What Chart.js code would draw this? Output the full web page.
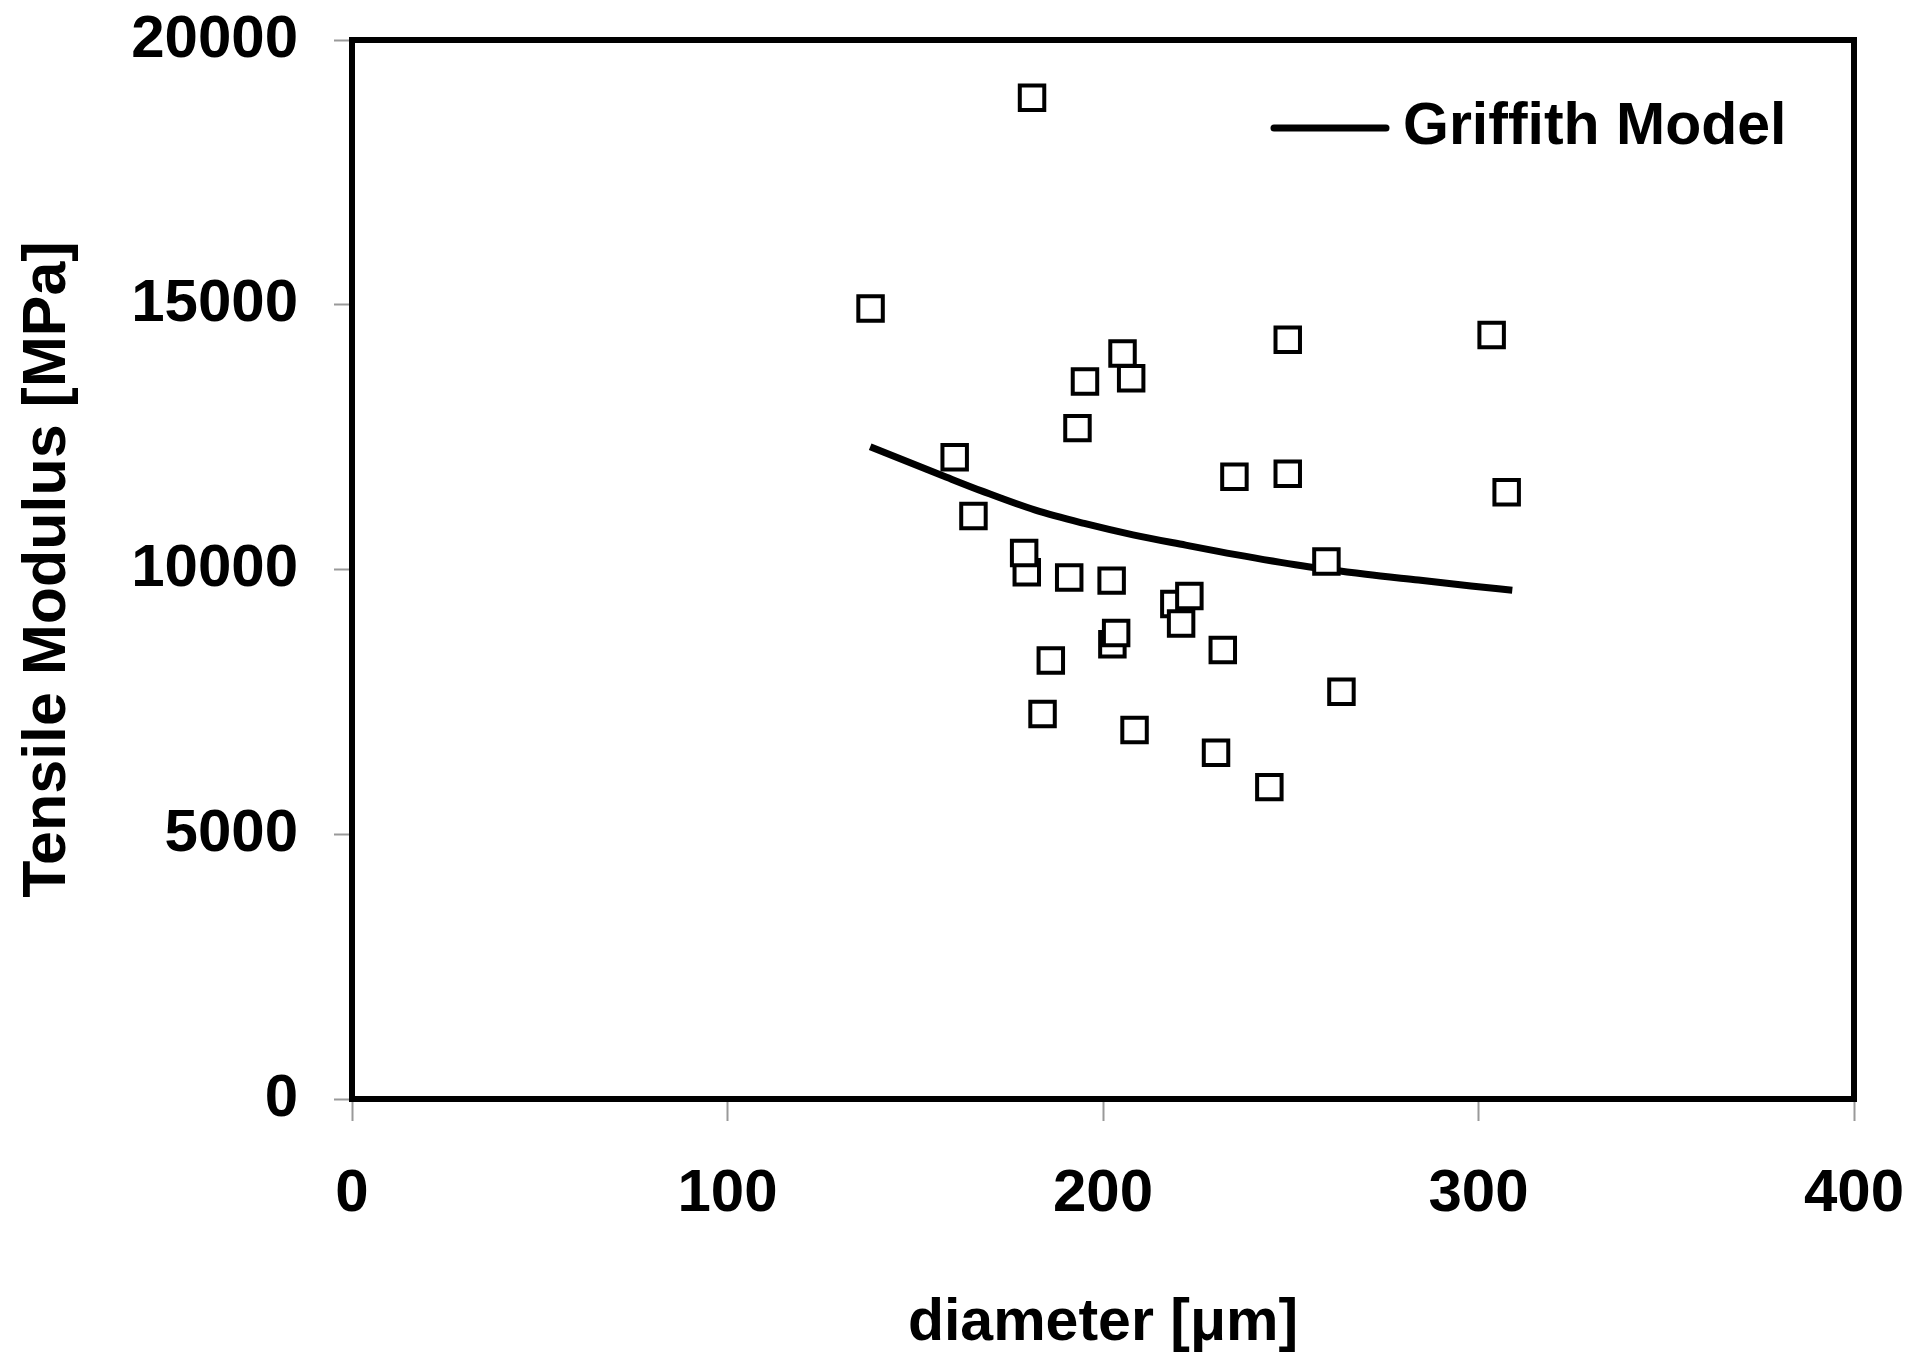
<!DOCTYPE html>
<html>
<head>
<meta charset="utf-8">
<script src="https://cdn.jsdelivr.net/npm/chart.js@4.4.1/dist/chart.umd.min.js"></script>
<style>
  html, body { margin: 0; padding: 0; background: #fff; }
  #wrap { width: 1915px; height: 1359px; }
</style>
</head>
<body>
<div id="wrap"><canvas id="c" width="1915" height="1359"></canvas></div>
<script>
// ---- data ----
// measured fibres (back-most squares first so overlapping order matches)
const diameter = [179.7, 219.0, 202.5, 181.1, 138.1, 205.2, 195.2, 207.5, 193.2, 249.2, 303.5, 160.5, 235.0, 249.2, 307.5, 165.5, 179.0, 191.0, 202.3, 259.5, 223.0, 220.8, 203.5, 231.9, 186.1, 263.5, 183.9, 208.4, 230.1, 244.3];
const modulus  = [9950, 9350, 8590, 18910, 14930, 14080, 13550, 13610, 12670, 14340, 14430, 12120, 11750, 11810, 11460, 11010, 10310, 9850, 9790, 10150, 9500, 8980, 8800, 8480, 8280, 7690, 7270, 6970, 6540, 5890];
// Griffith model curve
const modelDiameter = [138, 146, 157, 168, 182, 195, 208, 222, 235, 253, 270, 284, 298, 309];
const modelModulus  = [12320, 12090, 11780, 11475, 11120, 10870, 10655, 10460, 10285, 10070, 9910, 9800, 9690, 9610];
// axes
const xTickValues = [0, 100, 200, 300, 400];
const yTickValues = [0, 5000, 10000, 15000, 20000];
const xTitle = 'diameter [μm]';
const yTitle = 'Tensile Modulus [MPa]';
const modelLabel = 'Griffith Model';

const FAMILY = '"Liberation Sans", Arial, Helvetica, sans-serif';

const framePlugin = {
  id: 'frame',
  afterDatasetsDraw(chart) {
    const { ctx, chartArea: a } = chart;
    ctx.save();
    ctx.strokeStyle = '#000';
    ctx.lineWidth = 6;
    ctx.strokeRect(a.left, a.top, a.right - a.left, a.bottom - a.top);
    ctx.restore();
  }
};

const legendPlugin = {
  id: 'insideLegend',
  afterDraw(chart) {
    const { ctx, chartArea: a } = chart;
    const ds = chart.data.datasets[1];
    const y = a.top + 88;
    const x1 = a.right - 580, x2 = a.right - 468;
    ctx.save();
    ctx.strokeStyle = ds.borderColor;
    ctx.lineWidth = ds.borderWidth;
    ctx.lineCap = 'round';
    ctx.beginPath(); ctx.moveTo(x1, y); ctx.lineTo(x2, y); ctx.stroke();
    ctx.font = 'bold 59px ' + FAMILY;
    ctx.fillStyle = '#000';
    ctx.textBaseline = 'middle';
    ctx.textAlign = 'left';
    ctx.fillText(ds.label, x2 + 17, y);
    ctx.restore();
  }
};

const tickFont = { family: FAMILY, size: 60, weight: 'bold' };
const xTitleFont = { family: FAMILY, size: 59, weight: 'bold' };
const yTitleFont = { family: FAMILY, size: 61, weight: 'bold' };

function clearScalePadding(s) {
  s.paddingTop = 0; s.paddingBottom = 0; s.paddingLeft = 0; s.paddingRight = 0;
}

let pad = { top: 40, right: 61, left: 0, bottom: 0 };

const chart = new Chart(document.getElementById('c'), {
  type: 'scatter',
  data: {
    datasets: [
      {
        label: 'Measured',
        data: diameter.map((d, i) => ({ x: d, y: modulus[i] })),
        pointStyle: 'rect',
        pointRadius: 17.3,
        pointBorderWidth: 4,
        pointBorderColor: '#000',
        pointBackgroundColor: '#fff',
        showLine: false,
        order: 0
      },
      {
        label: modelLabel,
        data: modelDiameter.map((d, i) => ({ x: d, y: modelModulus[i] })),
        showLine: true,
        borderColor: '#000',
        borderWidth: 7,
        pointRadius: 0,
        cubicInterpolationMode: 'monotone',
        fill: false,
        order: 1
      }
    ]
  },
  options: {
    responsive: false,
    animation: false,
    events: [],
    layout: { padding: pad },
    plugins: { legend: { display: false }, tooltip: { enabled: false } },
    scales: {
      x: {
        type: 'linear', min: 0, max: 400,
        afterBuildTicks: s => { s.ticks = xTickValues.map(v => ({ value: v })); },
        afterFit: s => { s.height = 260; clearScalePadding(s); },
        ticks: { padding: 37, font: tickFont, color: '#000', maxRotation: 0, callback: v => String(v) },
        grid: { display: true, drawOnChartArea: false, drawTicks: true, tickLength: 22, tickColor: '#999', tickWidth: 2 },
        border: { display: false },
        title: { display: true, text: xTitle, font: xTitleFont, color: '#000', padding: { top: 0, bottom: 0 } }
      },
      y: {
        type: 'linear', min: 0, max: 20000,
        afterBuildTicks: s => { s.ticks = yTickValues.map(v => ({ value: v })); },
        afterFit: s => { s.width = 352; clearScalePadding(s); },
        ticks: { padding: 36, font: tickFont, color: '#000', callback: v => String(v) },
        grid: { display: true, drawOnChartArea: false, drawTicks: true, tickLength: 18, tickColor: '#999', tickWidth: 2 },
        border: { display: false },
        title: { display: true, text: yTitle, font: yTitleFont, color: '#000', padding: { top: 12, bottom: 0 } }
      }
    }
  },
  plugins: [framePlugin, legendPlugin]
});

// pin the plot frame to the reference position
const target = { top: 40, right: 1854 };
for (let i = 0; i < 3; i++) {
  const a = chart.chartArea;
  const dt = target.top - a.top, dr = a.right - target.right;
  if (Math.abs(dt) < 0.5 && Math.abs(dr) < 0.5) break;
  pad = { top: pad.top + dt, right: pad.right + dr, left: 0, bottom: 0 };
  chart.options.layout.padding = pad;
  chart.update();
}
</script>
</body>
</html>
